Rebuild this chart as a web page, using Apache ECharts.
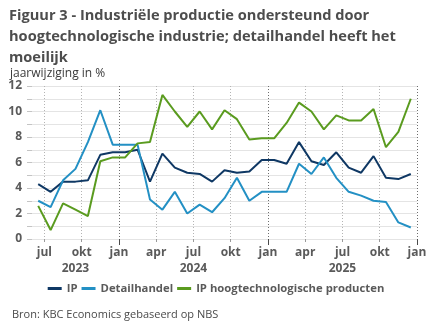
<!DOCTYPE html>
<html>
<head>
<meta charset="utf-8">
<script src="https://cdn.jsdelivr.net/npm/echarts@6/dist/echarts.min.js"></script>
<style>
  html, body { margin: 0; padding: 0; background: #ffffff; }
  #chart { width: 432px; height: 334px; }
</style>
</head>
<body>
<div id="chart"></div>
<script>
// Monthly year-on-year growth, China (%)
const months = [
  '2023-06','2023-07','2023-08','2023-09','2023-10','2023-11','2023-12',
  '2024-01','2024-02','2024-03','2024-04','2024-05','2024-06','2024-07','2024-08','2024-09','2024-10','2024-11','2024-12',
  '2025-01','2025-02','2025-03','2025-04','2025-05','2025-06','2025-07','2025-08','2025-09','2025-10','2025-11','2025-12'
];
const ip = [4.3,3.7,4.5,4.5,4.6,6.6,6.8,6.8,7.0,4.5,6.7,5.6,5.2,5.1,4.5,5.4,5.2,5.3,6.2,6.2,5.9,7.6,6.1,5.8,6.8,5.6,5.2,6.5,4.8,4.7,5.1];
const detailhandel = [3.0,2.5,4.6,5.5,7.6,10.1,7.4,7.4,7.4,3.1,2.3,3.7,2.0,2.7,2.1,3.2,4.8,3.0,3.7,3.7,3.7,5.9,5.1,6.4,4.8,3.7,3.4,3.0,2.9,1.3,0.9];
const hoogtech = [2.6,0.7,2.8,2.3,1.8,6.1,6.4,6.4,7.5,7.6,11.3,10.0,8.8,10.0,8.6,10.1,9.4,7.8,7.9,7.9,9.1,10.7,10.0,8.6,9.7,9.3,9.3,10.2,7.2,8.4,11.0];

const seriesNames = ['IP', 'Detailhandel', 'IP hoogtechnologische producten'];
const seriesColors = ['#0f3864', '#2390c4', '#5a9b1f'];

// quarter ticks (month index counted from January 2023)
const quarterTicks = [6, 9, 12, 15, 18, 21, 24, 27, 30, 33, 36];
const quarterLabels = ['jul','okt','jan','apr','jul','okt','jan','apr','jul','okt','jan'];
const years = [2023, 2024, 2025];

const baseYear = 2023;
const xMin = 5;   // start of June 2023
const xMax = 36;  // start of January 2026

// each month is plotted at its middle
function monthPos(m) {
  const [y, mo] = m.split('-').map(Number);
  return (y - baseYear) * 12 + (mo - 1) + 0.5;
}
function toPairs(vals) {
  return vals.map((v, i) => [monthPos(months[i]), v]);
}

// year labels sit in the middle of the visible part of each year
const yearCenters = years.map(y => {
  const a = Math.max(xMin, (y - baseYear) * 12);
  const b = Math.min(xMax, (y - baseYear + 1) * 12);
  return (a + b) / 2;
});
const yearBounds = years.map(y => (y - baseYear + 1) * 12).filter(v => v > xMin && v <= xMax);

const FONT = '"Open Sans", "Noto Sans", sans-serif';
const AXIS_TEXT = '#5a5a5a';

const chart = echarts.init(document.getElementById('chart'), null, { renderer: 'canvas' });

const gridBox = { left: 32, right: 15, top: 86, bottom: 95, outerBoundsMode: 'none', containLabel: false };

chart.setOption({
  animation: false,
  backgroundColor: '#ffffff',
  textStyle: { fontFamily: FONT },
  title: [
    {
      text: 'Figuur 3 - Industriële productie ondersteund door\nhoogtechnologische industrie; detailhandel heeft het\nmoeilijk',
      left: 9, top: 5, padding: 0,
      textStyle: { fontFamily: FONT, fontSize: 14.6, fontWeight: 'bold', color: '#4d4d4d', lineHeight: 21 }
    },
    {
      text: 'jaarwijziging in %',
      left: 10, top: 66, padding: 0,
      textStyle: { fontFamily: FONT, fontSize: 12, fontWeight: 'normal', color: '#3a3a3a', lineHeight: 15 }
    },
    {
      text: 'Bron: KBC Economics gebaseerd op NBS',
      left: 12, top: 308, padding: 0,
      textStyle: { fontFamily: FONT, fontSize: 11, fontWeight: 'normal', color: '#4a4a4a', lineHeight: 14 }
    }
  ],
  legend: {
    data: seriesNames,
    left: 'center', top: 283, padding: 0,
    icon: 'rect', itemWidth: 14, itemHeight: 3, itemGap: 4,
    textStyle: { fontFamily: FONT, fontSize: 11.3, fontWeight: 'bold', color: AXIS_TEXT }
  },
  grid: [Object.assign({}, gridBox), Object.assign({}, gridBox)],
  xAxis: [
    {
      type: 'value', gridIndex: 0, min: xMin, max: xMax, position: 'bottom',
      axisLine: { show: false },
      axisTick: { show: true, customValues: quarterTicks, length: 3, lineStyle: { color: '#9a9a9a', width: 1 } },
      axisLabel: {
        customValues: quarterTicks, margin: 8,
        fontFamily: FONT, fontSize: 12, fontWeight: 'bold', color: AXIS_TEXT,
        formatter: v => quarterLabels[quarterTicks.indexOf(Math.round(v))] || ''
      },
      splitLine: {
        show: true,
        lineStyle: { color: ['#b4b4b4', '#b4b4b4', '#6e6e6e', '#b4b4b4'], width: 1, type: [1, 2] }
      }
    },
    {
      type: 'value', gridIndex: 1, min: xMin, max: xMax, position: 'bottom',
      axisLine: { show: false },
      axisTick: { show: true, customValues: yearBounds, length: 6, lineStyle: { color: '#4a4a4a', width: 1 } },
      axisLabel: {
        customValues: yearCenters, margin: 24,
        fontFamily: FONT, fontSize: 12, fontWeight: 'bold', color: AXIS_TEXT,
        formatter: v => {
          const i = yearCenters.findIndex(c => Math.abs(c - v) < 1e-6);
          return i >= 0 ? String(years[i]) : '';
        }
      },
      splitLine: { show: false }
    }
  ],
  yAxis: [
    {
      type: 'value', gridIndex: 0, min: 0, max: 12, interval: 1,
      axisLine: { show: false },
      axisTick: { show: true, length: 5, lineStyle: { color: '#c4c4c4', width: 1 } },
      axisLabel: {
        margin: 10, fontFamily: FONT, fontSize: 12, fontWeight: 'bold', color: AXIS_TEXT,
        formatter: v => (Math.round(v) % 2 === 0 ? String(Math.round(v)) : '')
      },
      splitLine: { show: true, lineStyle: { color: '#e4e4e4', width: 1 } }
    },
    {
      type: 'value', gridIndex: 1, min: 0, max: 12, show: false
    }
  ],
  series: [
    { name: seriesNames[0], data: toPairs(ip), color: seriesColors[0] },
    { name: seriesNames[1], data: toPairs(detailhandel), color: seriesColors[1] },
    { name: seriesNames[2], data: toPairs(hoogtech), color: seriesColors[2] }
  ].map(s => Object.assign({
    type: 'line', xAxisIndex: 0, yAxisIndex: 0,
    showSymbol: false, symbol: 'none',
    lineStyle: { width: 2, color: s.color }, itemStyle: { color: s.color },
    emphasis: { disabled: true }
  }, s))
});
</script>
</body>
</html>
